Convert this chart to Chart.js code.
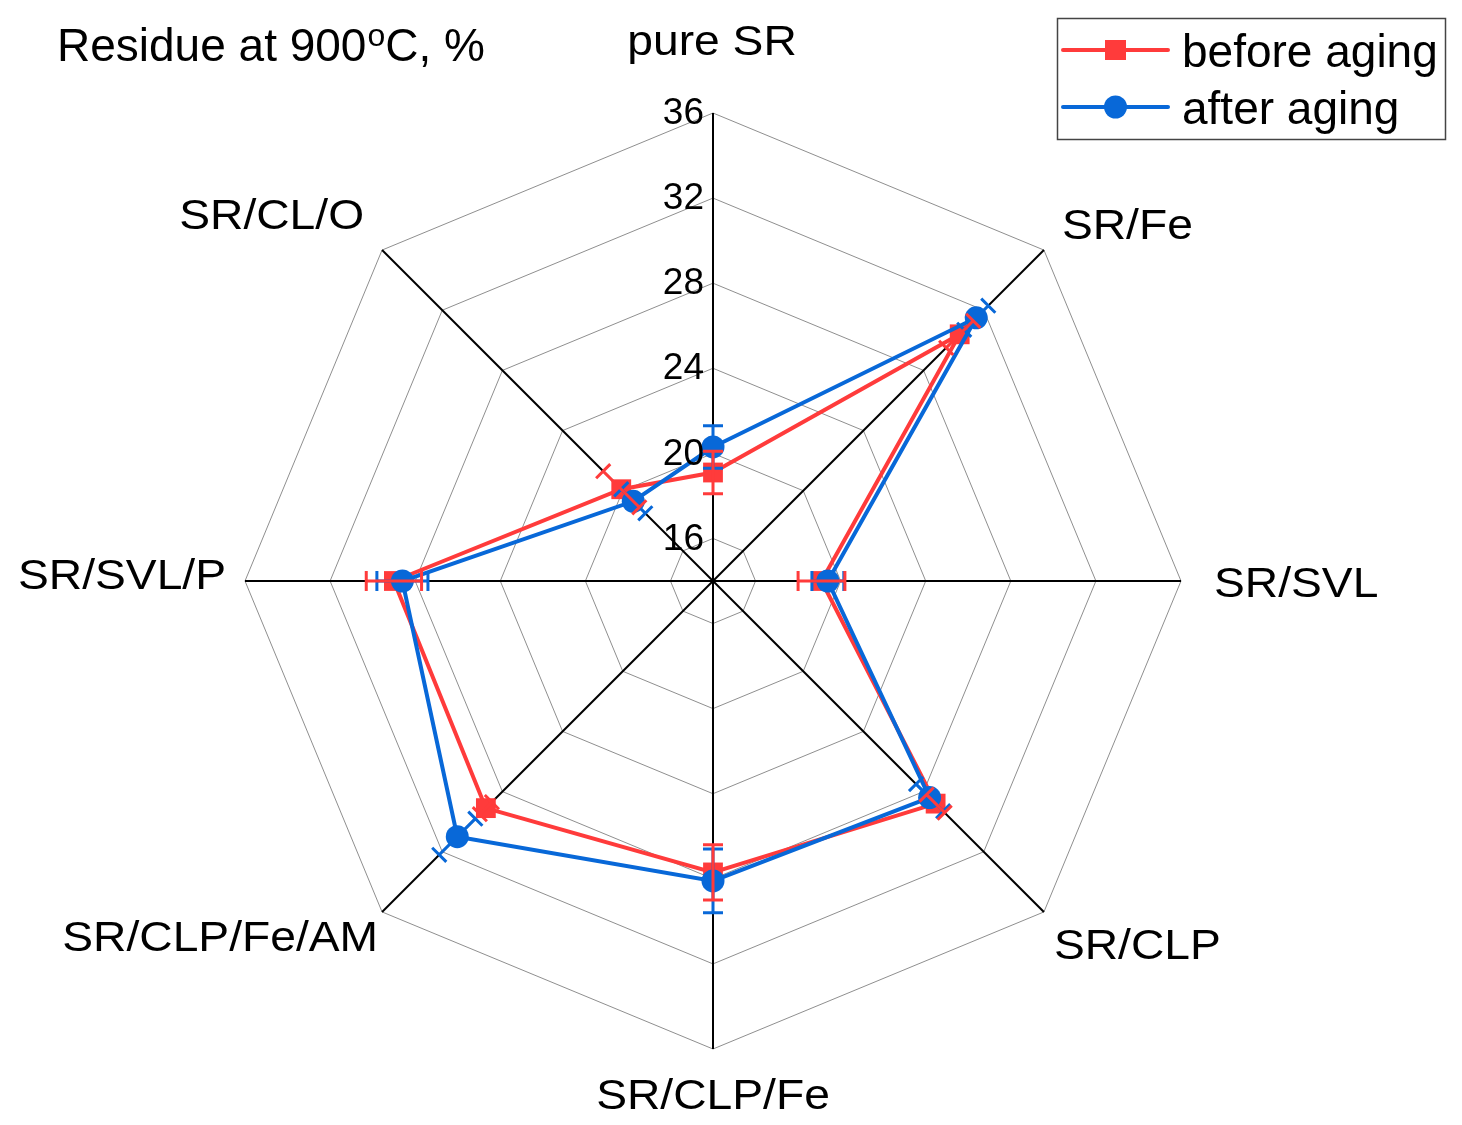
<!DOCTYPE html>
<html><head><meta charset="utf-8">
<script src="https://cdn.jsdelivr.net/npm/chart.js@4/dist/chart.umd.min.js"></script>
<style>html,body{margin:0;padding:0;background:#fff}canvas{display:block}</style>
</head><body>
<canvas id="c" width="1462" height="1125"></canvas>
<script>
const categories = ['pure SR', 'SR/Fe', 'SR/SVL', 'SR/CLP', 'SR/CLP/Fe', 'SR/CLP/Fe/AM', 'SR/SVL/P', 'SR/CL/O'];
const beforeAging = [19.1, 30.4, 19.1, 28.8, 27.7, 29.1, 29.0, 20.1];
const afterAging = [20.3, 31.5, 19.4, 28.4, 28.1, 31.0, 28.6, 19.3];
const beforeErr = [1.0, 0.9, 1.1, 0.6, 1.3, 0.4, 1.3, 1.2];
const afterErr = [1.0, 0.8, 0.75, 0.9, 1.5, 1.2, 1.2, 0.8];
const tickValues = [16, 20, 24, 28, 32, 36];
const tickLabels = ['16', '20', '24', '28', '32', '36'];
const axisMin = 14, axisMax = 36;
const seriesNames = ['before aging', 'after aging'];
const titleParts = ['Residue at 900', 'o', 'C, %'];

const RED = '#ff3b3b', BLUE = '#0868d8';
const FONT = '"Liberation Sans", Arial, sans-serif';

function txt(ctx, s, x, y, size, align, sx) {
  ctx.save();
  ctx.font = size + 'px ' + FONT;
  ctx.textBaseline = 'alphabetic';
  ctx.textAlign = 'left';
  const w = ctx.measureText(s).width * sx;
  let left = x;
  if (align === 'center') left = x - w / 2; else if (align === 'right') left = x - w;
  ctx.translate(left, y);
  ctx.scale(sx, 1);
  ctx.fillStyle = '#000';
  ctx.fillText(s, 0, 0);
  ctx.restore();
  return w;
}

function drawErr(ctx, scale, vals, errs, color) {
  ctx.save();
  ctx.strokeStyle = color; ctx.lineWidth = 3; ctx.lineCap = 'butt';
  vals.forEach((v, i) => {
    const a = scale.getPointPosition(i, scale.getDistanceFromCenterForValue(v - errs[i]));
    const b = scale.getPointPosition(i, scale.getDistanceFromCenterForValue(v + errs[i]));
    const ang = a.angle;
    const px = -Math.sin(ang) * 10, py = Math.cos(ang) * 10;
    ctx.beginPath();
    ctx.moveTo(a.x, a.y); ctx.lineTo(b.x, b.y);
    ctx.moveTo(a.x - px, a.y - py); ctx.lineTo(a.x + px, a.y + py);
    ctx.moveTo(b.x - px, b.y - py); ctx.lineTo(b.x + px, b.y + py);
    ctx.stroke();
  });
  ctx.restore();
}

// label placement relative to outer vertex: [align, dx, baseline dy]
const labelPlace = [['center', -1, -58], ['left', 18, -11], ['left', 33, 16], ['left', 10, 47],
                    ['center', 0, 60], ['right', -4, 39], ['right', -19, 8], ['right', -18, -21]];

const deco = {
  id: 'deco',
  beforeDraw(chart) {
    const ctx = chart.ctx;
    ctx.save(); ctx.fillStyle = '#fff'; ctx.fillRect(0, 0, chart.width, chart.height); ctx.restore();
  },
  afterDatasetsDraw(chart) {
    const ctx = chart.ctx, scale = chart.scales.r;
    drawErr(ctx, scale, afterAging, afterErr, BLUE);
    drawErr(ctx, scale, beforeAging, beforeErr, RED);
  },
  afterDraw(chart) {
    const ctx = chart.ctx, scale = chart.scales.r;
    // tick labels
    ctx.save();
    ctx.font = '37px ' + FONT; ctx.fillStyle = '#000';
    ctx.textAlign = 'right'; ctx.textBaseline = 'middle';
    tickValues.forEach((v, k) => {
      const d = scale.getDistanceFromCenterForValue(v);
      ctx.fillText(tickLabels[k], scale.xCenter - 9, scale.yCenter - d + 1);
    });
    ctx.restore();
    // point labels
    const R = scale.getDistanceFromCenterForValue(axisMax);
    categories.forEach((c, i) => {
      const p = scale.getPointPosition(i, R);
      const [al, dx, dy] = labelPlace[i];
      txt(ctx, c, p.x + dx, p.y + dy, 42, al, 1.1);
    });
    // title
    let x = 57;
    x += txt(ctx, titleParts[0], x, 61, 46, 'left', 1.0);
    x += txt(ctx, titleParts[1], x + 1, 46, 32, 'left', 1.0) + 1;
    txt(ctx, titleParts[2], x, 61, 46, 'left', 1.0);
    // legend
    ctx.save();
    ctx.strokeStyle = '#444'; ctx.lineWidth = 1.5;
    ctx.strokeRect(1057.5, 18.5, 388, 121);
    const rows = [[50, RED, 'rect'], [107, BLUE, 'circle']];
    rows.forEach(([y, col, shp], k) => {
      ctx.strokeStyle = col; ctx.lineWidth = 4; ctx.lineCap = 'round';
      ctx.beginPath(); ctx.moveTo(1063, y); ctx.lineTo(1168, y); ctx.stroke();
      ctx.fillStyle = col;
      if (shp === 'rect') ctx.fillRect(1105, y - 10, 21, 20);
      else { ctx.beginPath(); ctx.arc(1115.5, y, 11.5, 0, Math.PI * 2); ctx.fill(); }
      txt(ctx, seriesNames[k], 1182, y + 17, 46, 'left', 1.0);
    });
    ctx.restore();
  }
};

new Chart(document.getElementById('c'), {
  type: 'radar',
  data: {
    labels: categories,
    datasets: [
      { label: seriesNames[0], data: beforeAging, borderColor: RED, backgroundColor: RED,
        pointBackgroundColor: RED, pointBorderColor: RED, pointBorderWidth: 0, pointStyle: 'rect',
        pointRadius: 14, borderWidth: 4, fill: false, order: 2 },
      { label: seriesNames[1], data: afterAging, borderColor: BLUE, backgroundColor: BLUE,
        pointBackgroundColor: BLUE, pointBorderColor: BLUE, pointBorderWidth: 0, pointStyle: 'circle',
        pointRadius: 11.5, borderWidth: 4, fill: false, order: 1 }
    ]
  },
  options: {
    responsive: false, devicePixelRatio: 1, animation: false,
    layout: { padding: { left: 245, right: 281, top: 113, bottom: 76 } },
    plugins: { legend: { display: false }, title: { display: false }, tooltip: { enabled: false } },
    elements: { line: { tension: 0 } },
    scales: {
      r: {
        min: axisMin, max: axisMax,
        afterBuildTicks: s => { s.ticks = [axisMin, ...tickValues].map(v => ({ value: v })); },
        ticks: { display: false },
        pointLabels: { display: false },
        grid: { color: '#8f8f8f', lineWidth: 1, circular: false },
        angleLines: { color: '#000', lineWidth: 2 }
      }
    }
  },
  plugins: [deco]
});
</script>
</body></html>
